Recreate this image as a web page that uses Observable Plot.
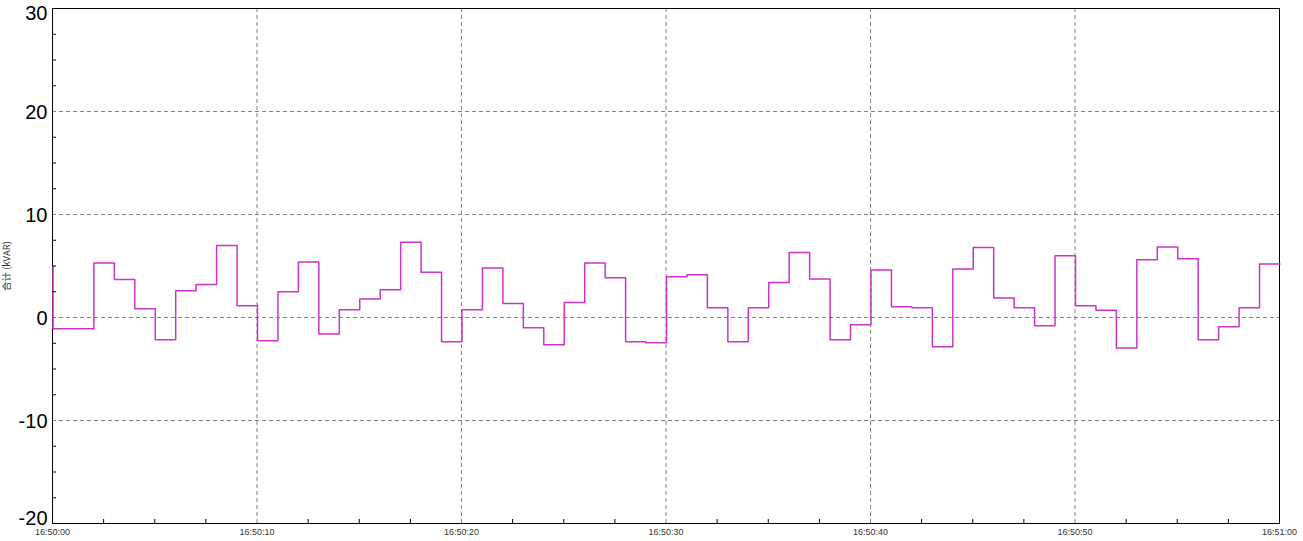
<!DOCTYPE html>
<html><head><meta charset="utf-8">
<script src="https://cdn.jsdelivr.net/npm/d3@7"></script>
<script src="https://cdn.jsdelivr.net/npm/@observablehq/plot@0.6"></script>
<style>body{margin:0;background:#fff} svg{display:block}</style>
</head><body><div id="chart"></div>
<script>
// seconds after 16:50:00
const seconds = [0,0,1,2,3,4,5,6,7,8,9,10,11,12,13,14,15,16,17,18,19,20,21,22,23,24,25,26,27,28,29,30,31,32,33,34,35,36,37,38,39,40,41,42,43,44,45,46,47,48,49,50,51,52,53,54,55,56,57,58,59,60];
const values = [5.0,-1.1,-1.1,5.3,3.7,0.85,-2.15,2.6,3.2,7.0,1.15,-2.25,2.5,5.4,-1.6,0.75,1.8,2.7,7.3,4.4,-2.35,0.75,4.8,1.35,-1.0,-2.65,1.45,5.3,3.85,-2.35,-2.45,3.95,4.15,0.95,-2.35,0.95,3.4,6.3,3.75,-2.15,-0.7,4.6,1.05,0.95,-2.85,4.7,6.8,1.9,0.95,-0.8,6.0,1.15,0.7,-2.95,5.6,6.85,5.7,-2.15,-0.9,0.95,5.2,5.2];
const yTicksMiddle = [-10,0,10,20];
const yTickTop = [30];
const yTickBottom = [-20];
const yGrid = [-10,0,10,20];
const yMinorTicks = [-17.5,-15,-12.5,-7.5,-5,-2.5,2.5,5,7.5,12.5,15,17.5,22.5,25,27.5];
const xTickSeconds = [0,10,20,30,40,50,60];
const xGridSeconds = [10,20,30,40,50,60];
const xMinorSeconds = [2.5,5,7.5,12.5,15,17.5,22.5,25,27.5,32.5,35,37.5,42.5,45,47.5,52.5,55,57.5];
const yLabel = "合计 (kVAR)";
const base = Date.UTC(2000,0,1,16,50,0);
const toTime = s => new Date(base + s*1000);

const data = seconds.map((s,i) => ({time: toTime(s), value: values[i]}));
const yAxisStyle = {tickSize: 0, tickPadding: 5, fontSize: 20, fill: "#000", label: null, tickFormat: d => String(d)};

const chart = Plot.plot({
  width: 1303, height: 541,
  marginLeft: 52, marginRight: 24, marginTop: 8, marginBottom: 18,
  style: {fontFamily: "'Liberation Sans', Arial, sans-serif", background: "#fff"},
  x: {type: "utc", domain: [toTime(0), toTime(60)]},
  y: {domain: [-20, 30]},
  marks: [
    Plot.gridY(yGrid, {stroke: "#808080", strokeOpacity: 1, strokeDasharray: "4,3"}),
    Plot.gridX(xGridSeconds.map(toTime), {stroke: "#808080", strokeOpacity: 1, strokeDasharray: "4,3"}),
    Plot.frame({stroke: "#000"}),
    Plot.line(data, {x: "time", y: "value", curve: "step-after", stroke: "#cc33cc", strokeWidth: 1.5, dx: 0.5}),
    Plot.axisY(yTicksMiddle, {...yAxisStyle, dy: 1.5}),
    Plot.axisY(yTickTop, {...yAxisStyle, dy: 5}),
    Plot.axisY(yTickBottom, {...yAxisStyle, dy: -5}),
    Plot.axisY(yMinorTicks, {tickSize: -4, text: null, label: null, stroke: "#000"}),
    Plot.axisY([], {label: yLabel, labelAnchor: "center", labelArrow: "none", labelOffset: 49, fontSize: 9.5, fill: "#333", dy: -3, fontFamily: "'Noto Sans CJK SC', sans-serif"}),
    Plot.axisX(xTickSeconds.map(toTime), {tickSize: 0, tickPadding: 5, fontSize: 9, fill: "#333", label: null, tickFormat: d3.utcFormat("%H:%M:%S")}),
    Plot.axisX(xMinorSeconds.map(toTime), {tickSize: -4, text: null, label: null, stroke: "#000"})
  ]
});
document.getElementById("chart").appendChild(chart);
</script>
</body></html>
